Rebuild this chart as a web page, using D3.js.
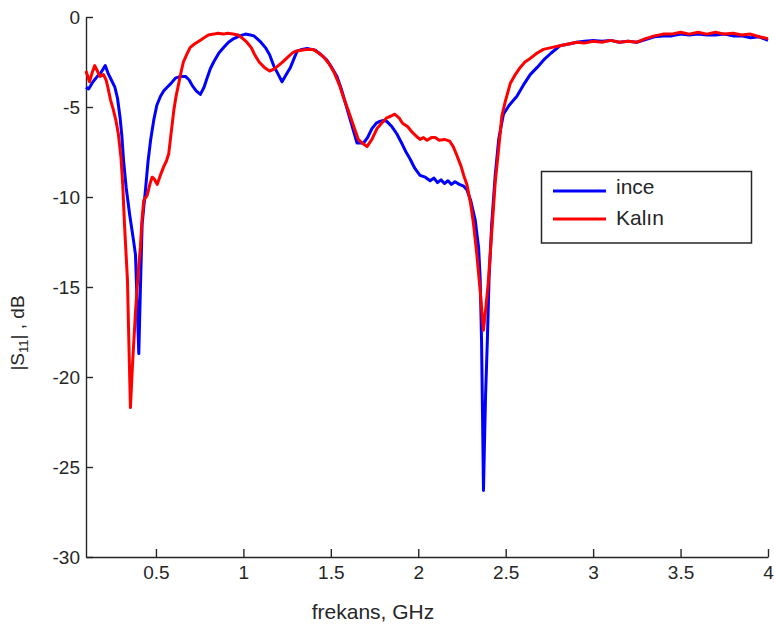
<!DOCTYPE html>
<html>
<head>
<meta charset="utf-8">
<script src="https://cdn.jsdelivr.net/npm/d3@7"></script>
<style>
  html, body { margin: 0; padding: 0; background: #fff; }
  svg { display: block; font-family: "Liberation Sans", Arial, sans-serif; }
</style>
</head>
<body>
<svg id="chart" width="774" height="630"></svg>
<script>
// Return loss |S11| of the two antenna variants versus frequency (GHz)
const inceFreq = [0.10,0.115,0.14,0.165,0.185,0.21,0.225,0.245,0.265,0.28,0.295,0.305,0.315,0.33,0.35,0.37,0.383,0.402,0.41,0.421,0.44,0.455,0.47,0.488,0.505,0.526,0.545,0.564,0.585,0.611,0.64,0.669,0.69,0.707,0.73,0.754,0.775,0.792,0.81,0.83,0.86,0.887,0.915,0.945,0.98,1.011,1.04,1.06,1.078,1.10,1.126,1.15,1.173,1.20,1.221,1.245,1.269,1.29,1.307,1.335,1.364,1.39,1.411,1.445,1.478,1.505,1.535,1.56,1.59,1.62,1.65,1.687,1.71,1.735,1.76,1.78,1.80,1.82,1.85,1.878,1.91,1.93,1.954,1.98,2.01,2.04,2.068,2.09,2.11,2.13,2.15,2.17,2.19,2.21,2.235,2.26,2.278,2.30,2.326,2.345,2.354,2.362,2.368,2.373,2.378,2.385,2.395,2.405,2.42,2.44,2.46,2.487,2.52,2.564,2.60,2.64,2.68,2.716,2.76,2.81,2.86,2.907,2.95,3.0,3.05,3.1,3.15,3.2,3.25,3.3,3.35,3.4,3.45,3.5,3.55,3.6,3.65,3.7,3.75,3.8,3.85,3.9,3.95,4.0];
const inceS11 = [-3.9,-4.0,-3.6,-3.3,-3.1,-2.7,-3.1,-3.5,-3.9,-4.5,-5.6,-6.6,-8.0,-9.5,-11.0,-12.3,-13.2,-18.7,-15.5,-11.5,-9.6,-8.0,-6.8,-5.7,-4.9,-4.4,-4.1,-3.9,-3.7,-3.4,-3.3,-3.3,-3.5,-3.8,-4.1,-4.3,-3.9,-3.4,-2.9,-2.5,-2.0,-1.7,-1.4,-1.2,-1.05,-0.95,-1.0,-1.05,-1.2,-1.4,-1.7,-2.1,-2.7,-3.2,-3.6,-3.2,-2.8,-2.3,-1.9,-1.8,-1.75,-1.8,-1.85,-2.1,-2.4,-2.8,-3.3,-4.0,-5.0,-6.0,-7.0,-7.0,-6.7,-6.2,-5.9,-5.8,-5.75,-5.8,-6.1,-6.5,-7.1,-7.5,-7.9,-8.4,-8.8,-8.9,-9.1,-8.95,-9.2,-9.05,-9.25,-9.1,-9.3,-9.15,-9.3,-9.4,-9.6,-10.2,-11.3,-12.8,-14.5,-18.0,-22.5,-26.3,-24.0,-21.0,-18.0,-14.5,-11.5,-8.8,-6.8,-5.4,-4.9,-4.4,-3.8,-3.2,-2.8,-2.4,-2.0,-1.6,-1.5,-1.4,-1.35,-1.3,-1.35,-1.3,-1.4,-1.35,-1.4,-1.25,-1.1,-1.05,-1.05,-0.95,-1.0,-0.95,-1.0,-1.0,-0.95,-1.05,-1.05,-1.15,-1.1,-1.3];

const kalinFreq = [0.10,0.12,0.135,0.15,0.165,0.18,0.20,0.215,0.225,0.24,0.255,0.27,0.285,0.30,0.31,0.32,0.337,0.345,0.354,0.365,0.383,0.40,0.411,0.42,0.43,0.45,0.465,0.478,0.49,0.507,0.525,0.545,0.56,0.573,0.585,0.602,0.615,0.63,0.645,0.657,0.675,0.695,0.72,0.752,0.775,0.80,0.83,0.855,0.885,0.91,0.94,0.97,0.997,1.02,1.045,1.065,1.09,1.12,1.15,1.175,1.20,1.23,1.257,1.28,1.30,1.33,1.36,1.40,1.43,1.457,1.49,1.52,1.55,1.57,1.60,1.625,1.657,1.68,1.707,1.735,1.764,1.79,1.82,1.845,1.865,1.89,1.91,1.94,1.965,1.987,2.01,2.03,2.05,2.075,2.097,2.12,2.15,2.18,2.20,2.217,2.245,2.26,2.278,2.30,2.316,2.335,2.355,2.373,2.385,2.40,2.42,2.44,2.459,2.478,2.50,2.526,2.555,2.583,2.61,2.64,2.68,2.716,2.76,2.81,2.86,2.907,2.95,3.0,3.05,3.1,3.15,3.2,3.25,3.3,3.35,3.4,3.45,3.5,3.55,3.6,3.65,3.7,3.75,3.8,3.85,3.9,3.95,4.0];
const kalinS11 = [-3.0,-3.6,-3.1,-2.7,-3.0,-3.3,-3.2,-3.5,-3.9,-4.6,-5.1,-5.7,-6.5,-7.8,-9.3,-11.5,-14.6,-18.0,-21.7,-19.5,-16.4,-14.0,-12.8,-11.3,-10.2,-9.9,-9.3,-8.9,-9.0,-9.3,-8.8,-8.3,-8.0,-7.6,-6.6,-5.2,-4.4,-3.7,-3.0,-2.5,-2.1,-1.7,-1.5,-1.3,-1.15,-1.0,-0.95,-0.9,-0.95,-0.9,-0.95,-1.0,-1.2,-1.4,-1.7,-2.1,-2.5,-2.8,-3.0,-2.9,-2.7,-2.45,-2.2,-2.0,-1.9,-1.85,-1.8,-1.8,-2.0,-2.2,-2.6,-3.1,-3.8,-4.4,-5.2,-5.9,-6.8,-7.0,-7.2,-6.8,-6.2,-5.9,-5.6,-5.5,-5.4,-5.6,-5.9,-6.1,-6.4,-6.6,-6.8,-6.7,-6.85,-6.7,-6.7,-6.85,-6.8,-6.9,-7.2,-7.6,-8.3,-8.8,-9.3,-10.4,-11.5,-13.2,-15.3,-17.4,-16.3,-14.8,-12.0,-9.2,-7.4,-5.5,-4.6,-3.7,-3.2,-2.8,-2.5,-2.3,-2.0,-1.8,-1.7,-1.6,-1.5,-1.4,-1.45,-1.35,-1.4,-1.3,-1.4,-1.35,-1.4,-1.2,-1.05,-0.95,-0.95,-0.85,-0.95,-0.85,-0.95,-0.85,-0.95,-0.9,-1.0,-0.95,-1.1,-1.2];

const seriesNames = ["ince", "Kalın"];
const seriesColors = ["#0000ff", "#ff0000"];

const xTickValues = [0.5, 1, 1.5, 2, 2.5, 3, 3.5, 4];
const xTickLabels = ["0.5", "1", "1.5", "2", "2.5", "3", "3.5", "4"];
const yTickValues = [0, -5, -10, -15, -20, -25, -30];
const yTickLabels = ["0", "-5", "-10", "-15", "-20", "-25", "-30"];

const svg = d3.select("#chart");
const plotLeft = 86, plotRight = 768, plotTop = 17, plotBottom = 557;
const ink = "#262626";

const x = d3.scaleLinear().domain([0.1, 4]).range([plotLeft, plotRight]);
const y = d3.scaleLinear().domain([-30, 0]).range([plotBottom, plotTop]);

// Axes with ticks pointing into the plot area
const xAxis = d3.axisBottom(x)
  .tickValues(xTickValues)
  .tickFormat((d, i) => xTickLabels[i])
  .tickSizeInner(-8).tickSizeOuter(0).tickPadding(9);
const yAxis = d3.axisLeft(y)
  .tickValues(yTickValues)
  .tickFormat((d, i) => yTickLabels[i])
  .tickSizeInner(-7).tickSizeOuter(0).tickPadding(6);

const gx = svg.append("g").attr("transform", `translate(0,${plotBottom})`).call(xAxis);
const gy = svg.append("g").attr("transform", `translate(${plotLeft},0)`).call(yAxis);
[gx, gy].forEach(g => {
  g.select(".domain").attr("stroke", ink).attr("stroke-width", 1.4);
  g.selectAll(".tick line").attr("stroke", ink).attr("stroke-width", 1.4);
  g.selectAll(".tick text").attr("fill", ink)
    .style("font-family", "'Liberation Sans', Arial, sans-serif")
    .style("font-size", "19px");
});

// Curves (blue first, red drawn over it)
const line = d3.line().x(d => x(d[0])).y(d => y(d[1]));
const series = [
  d3.zip(inceFreq, inceS11),
  d3.zip(kalinFreq, kalinS11)
];
series.forEach((pts, i) => {
  svg.append("path")
    .datum(pts)
    .attr("fill", "none")
    .attr("stroke", seriesColors[i])
    .attr("stroke-width", 3)
    .attr("stroke-linejoin", "round")
    .attr("d", line);
});

// Axis titles
svg.append("text")
  .attr("x", 373).attr("y", 619)
  .attr("text-anchor", "middle")
  .attr("fill", ink)
  .style("font-size", "21px")
  .text("frekans, GHz");

const yl = svg.append("text")
  .attr("transform", "translate(24,333) rotate(-90)")
  .attr("text-anchor", "middle")
  .attr("fill", ink)
  .style("font-size", "19px");
yl.append("tspan").text("|S");
yl.append("tspan").attr("dy", 4).style("font-size", "13px").text("11");
yl.append("tspan").attr("dy", -4).text("| , dB");

// Legend
const lg = svg.append("g");
lg.append("rect")
  .attr("x", 541.5).attr("y", 171.5).attr("width", 210).attr("height", 71.5)
  .attr("fill", "#fff").attr("stroke", ink).attr("stroke-width", 1.5);
const legendRows = [191, 219];
const legendBaselines = [194, 225];
seriesNames.forEach((name, i) => {
  lg.append("line")
    .attr("x1", 553).attr("x2", 606)
    .attr("y1", legendRows[i]).attr("y2", legendRows[i])
    .attr("stroke", seriesColors[i]).attr("stroke-width", 3);
  lg.append("text")
    .attr("x", 616).attr("y", legendBaselines[i])
    .attr("fill", ink)
    .style("font-size", "21px")
    .text(name);
});
</script>
</body>
</html>
